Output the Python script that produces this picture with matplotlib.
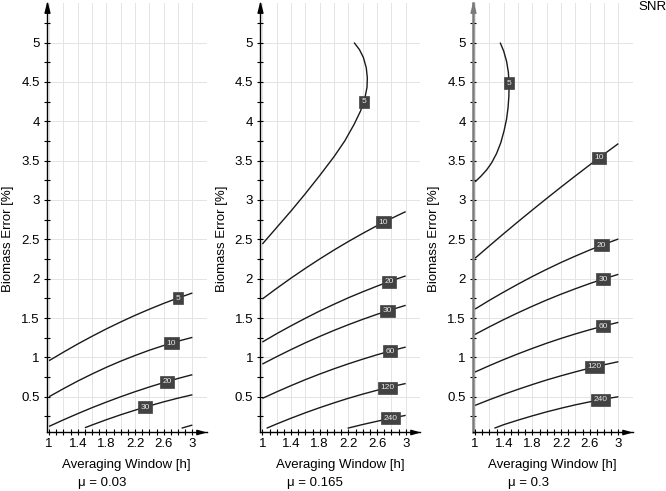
import numpy as np
import matplotlib
matplotlib.use('Agg')
import matplotlib.pyplot as plt
from matplotlib.path import Path
from matplotlib.ticker import FixedLocator, FuncFormatter

plt.rcParams['font.family'] = ['Liberation Sans', 'DejaVu Sans']

# ---------------- data ----------------
mu_labels = ['μ = 0.03', 'μ = 0.165', 'μ = 0.3']
x_tick_values = [1, 1.4, 1.8, 2.2, 2.6, 3]
y_tick_values = [0.5, 1, 1.5, 2, 2.5, 3, 3.5, 4, 4.5, 5]
x_axis_label = 'Averaging Window [h]'
y_axis_label = 'Biomass Error [%]'
contour_title = 'SNR'

x_std = [1.0, 1.2, 1.4, 1.6, 1.8, 2.0, 2.2, 2.4, 2.6, 2.8, 3.0]

# panel 1: mu = 0.03
p1_snr5_y = [0.958, 1.066, 1.170, 1.268, 1.362, 1.450, 1.534, 1.612, 1.686, 1.754, 1.818]
p1_snr10_y = [0.500, 0.602, 0.699, 0.789, 0.874, 0.952, 1.024, 1.091, 1.151, 1.206, 1.254]
p1_snr20_y = [0.123, 0.206, 0.285, 0.361, 0.432, 0.500, 0.564, 0.624, 0.680, 0.732, 0.780]
p1_snr30_x = [1.5, 1.6, 1.8, 2.0, 2.2, 2.4, 2.6, 2.8, 3.0]
p1_snr30_y = [0.106, 0.141, 0.208, 0.271, 0.329, 0.384, 0.435, 0.482, 0.525]
p1_snr60_x = [2.85, 2.9, 3.0]
p1_snr60_y = [0.100, 0.114, 0.140]

# panel 2: mu = 0.165
p2_snr5_x = [1.0, 1.2, 1.4, 1.6, 1.8, 2.0, 2.15, 2.28, 2.37, 2.43, 2.46, 2.465, 2.45, 2.41, 2.355, 2.28]
p2_snr5_y = [2.44, 2.65, 2.86, 3.08, 3.31, 3.55, 3.75, 3.96, 4.13, 4.29, 4.43, 4.55, 4.68, 4.81, 4.91, 5.00]
p2_snr10_y = [1.742, 1.877, 2.007, 2.131, 2.250, 2.364, 2.472, 2.575, 2.673, 2.765, 2.852]
p2_snr20_y = [1.195, 1.301, 1.401, 1.497, 1.589, 1.675, 1.757, 1.833, 1.905, 1.973, 2.035]
p2_snr30_y = [0.915, 1.009, 1.099, 1.185, 1.266, 1.343, 1.415, 1.483, 1.547, 1.606, 1.661]
p2_snr60_y = [0.479, 0.562, 0.641, 0.717, 0.788, 0.855, 0.918, 0.977, 1.033, 1.084, 1.131]
p2_snr120_x = [1.06, 1.2, 1.4, 1.6, 1.8, 2.0, 2.2, 2.4, 2.6, 2.8, 3.0]
p2_snr120_y = [0.100, 0.154, 0.227, 0.296, 0.361, 0.422, 0.480, 0.533, 0.582, 0.627, 0.668]
p2_snr240_x = [2.19, 2.4, 2.6, 2.8, 3.0]
p2_snr240_y = [0.100, 0.147, 0.188, 0.228, 0.263]

# panel 3: mu = 0.3
p3_snr5_x = [1.0, 1.08, 1.16, 1.23, 1.30, 1.36, 1.405, 1.44, 1.46, 1.472, 1.475, 1.465, 1.44, 1.40, 1.35]
p3_snr5_y = [3.23, 3.30, 3.38, 3.47, 3.59, 3.73, 3.88, 4.03, 4.17, 4.32, 4.47, 4.62, 4.76, 4.89, 5.00]
p3_snr10_y = [2.260, 2.417, 2.572, 2.724, 2.873, 3.020, 3.164, 3.306, 3.445, 3.582, 3.716]
p3_snr20_y = [1.614, 1.725, 1.830, 1.931, 2.028, 2.119, 2.206, 2.287, 2.364, 2.437, 2.504]
p3_snr30_y = [1.292, 1.388, 1.480, 1.567, 1.650, 1.729, 1.803, 1.872, 1.938, 1.999, 2.055]
p3_snr60_y = [0.814, 0.895, 0.972, 1.045, 1.114, 1.180, 1.241, 1.298, 1.351, 1.400, 1.445]
p3_snr120_y = [0.390, 0.462, 0.530, 0.594, 0.655, 0.713, 0.766, 0.816, 0.863, 0.906, 0.945]
p3_snr240_x = [1.27, 1.4, 1.6, 1.8, 2.0, 2.2, 2.4, 2.6, 2.8, 3.0]
p3_snr240_y = [0.100, 0.145, 0.203, 0.257, 0.308, 0.354, 0.397, 0.435, 0.470, 0.500]

# (snr label, x, y, label position: ('x', value) or ('y', value) or None)
panels = [
    [(5, x_std, p1_snr5_y, ('x', 2.80)),
     (10, x_std, p1_snr10_y, ('x', 2.71)),
     (20, x_std, p1_snr20_y, ('x', 2.65)),
     (30, p1_snr30_x, p1_snr30_y, ('x', 2.34)),
     (60, p1_snr60_x, p1_snr60_y, None)],
    [(5, p2_snr5_x, p2_snr5_y, ('y', 4.25)),
     (10, x_std, p2_snr10_y, ('x', 2.69)),
     (20, x_std, p2_snr20_y, ('x', 2.77)),
     (30, x_std, p2_snr30_y, ('x', 2.745)),
     (60, x_std, p2_snr60_y, ('x', 2.78)),
     (120, p2_snr120_x, p2_snr120_y, ('x', 2.75)),
     (240, p2_snr240_x, p2_snr240_y, ('x', 2.795))],
    [(5, p3_snr5_x, p3_snr5_y, ('y', 4.48)),
     (10, x_std, p3_snr10_y, ('x', 2.73)),
     (20, x_std, p3_snr20_y, ('x', 2.763)),
     (30, x_std, p3_snr30_y, ('x', 2.786)),
     (60, x_std, p3_snr60_y, ('x', 2.786)),
     (120, x_std, p3_snr120_y, ('x', 2.67)),
     (240, p3_snr240_x, p3_snr240_y, ('x', 2.753))],
]

# ---------------- layout ----------------
W, H = 666, 491
fig = plt.figure(figsize=(W / 100, H / 100), dpi=100)

ax_left_px = [46.7, 260.0, 472.7]
ax_w_px = 160.0
ax_bottom_px = 432.3
ax_top_px = 3.2
XLIM = (0.967, 3.2)
YLIM = (0.048, 5.5)

up_arrow = Path([(-0.25, -1.0), (0.25, -1.0), (0.0, 0.0), (-0.25, -1.0)],
                [Path.MOVETO, Path.LINETO, Path.LINETO, Path.CLOSEPOLY])
right_arrow = Path([(-1.0, -0.28), (-1.0, 0.28), (0.0, 0.0), (-1.0, -0.28)],
                   [Path.MOVETO, Path.LINETO, Path.LINETO, Path.CLOSEPOLY])

FS = 9.5
grid_col = '#e4e4e4'

for i, curves in enumerate(panels):
    ax = fig.add_axes([ax_left_px[i] / W, (H - ax_bottom_px) / H,
                       ax_w_px / W, (ax_bottom_px - ax_top_px) / H])
    ax.set_xlim(*XLIM)
    ax.set_ylim(*YLIM)
    ax.patch.set_alpha(0)
    for s in ['top', 'right']:
        ax.spines[s].set_visible(False)
    left_col = '#7a7a7a' if i == 2 else 'black'
    left_lw = 1.8 if i == 2 else 1.0
    ax.spines['left'].set_color(left_col)
    ax.spines['left'].set_linewidth(left_lw)
    ax.spines['bottom'].set_linewidth(1.0)

    # grid
    for gx in np.arange(1.0, 3.21, 0.2):
        ax.axvline(gx, color=grid_col, lw=0.7, zorder=0)
    for gy in y_tick_values:
        ax.axhline(gy, color=grid_col, lw=0.7, zorder=0)

    # ticks
    ax.xaxis.set_major_locator(FixedLocator(x_tick_values))
    ax.xaxis.set_minor_locator(FixedLocator(np.arange(1.0, 3.05, 0.1)))
    ax.yaxis.set_major_locator(FixedLocator(y_tick_values))
    ax.yaxis.set_minor_locator(FixedLocator(np.arange(0.25, 5.3, 0.25)))
    fmt = FuncFormatter(lambda v, p: '{:g}'.format(round(v, 2)))
    ax.xaxis.set_major_formatter(fmt)
    ax.yaxis.set_major_formatter(fmt)
    ax.tick_params(which='both', direction='inout', length=4, width=0.8,
                   labelsize=FS, color='black')
    ax.tick_params(axis='x', which='major', pad=2)
    ax.tick_params(axis='y', which='major', pad=3)

    # arrows
    ax.plot([0], [1], marker=up_arrow, markersize=14, color=left_col,
            transform=ax.transAxes, clip_on=False, zorder=5)
    ax.plot([0.985], [0], marker=right_arrow, markersize=11, color='black',
            transform=ax.transAxes, clip_on=False, zorder=5)

    # curves
    for snr, xs, ys, lab in curves:
        ax.plot(xs, ys, color='#1a1a1a', lw=1.0, zorder=2, solid_capstyle='butt')
        if lab is not None:
            kind, v = lab
            if kind == 'x':
                lx, ly = v, np.interp(v, xs, ys)
            else:
                ly, lx = v, np.interp(v, ys, xs)
            ax.text(lx, ly, str(snr), fontsize=6.0, color='#e8e8e8',
                    ha='center', va='center', zorder=4,
                    bbox=dict(boxstyle='square,pad=0.3', fc='#424242',
                              ec='#424242', lw=0.5))

    ax.text(0.5, -0.076, x_axis_label, transform=ax.transAxes,
            ha='center', va='center', fontsize=FS)
    ax.text(0.346, -0.117, mu_labels[i], transform=ax.transAxes,
            ha='center', va='center', fontsize=FS)
    ax.text(-0.24, 0.452, y_axis_label, transform=ax.transAxes,
            ha='center', va='center', rotation=90, fontsize=FS)

fig.text(638 / W, 1 - 7.5 / H, contour_title, ha='left', va='center', fontsize=FS)

fig.savefig('out.png', dpi=100)
